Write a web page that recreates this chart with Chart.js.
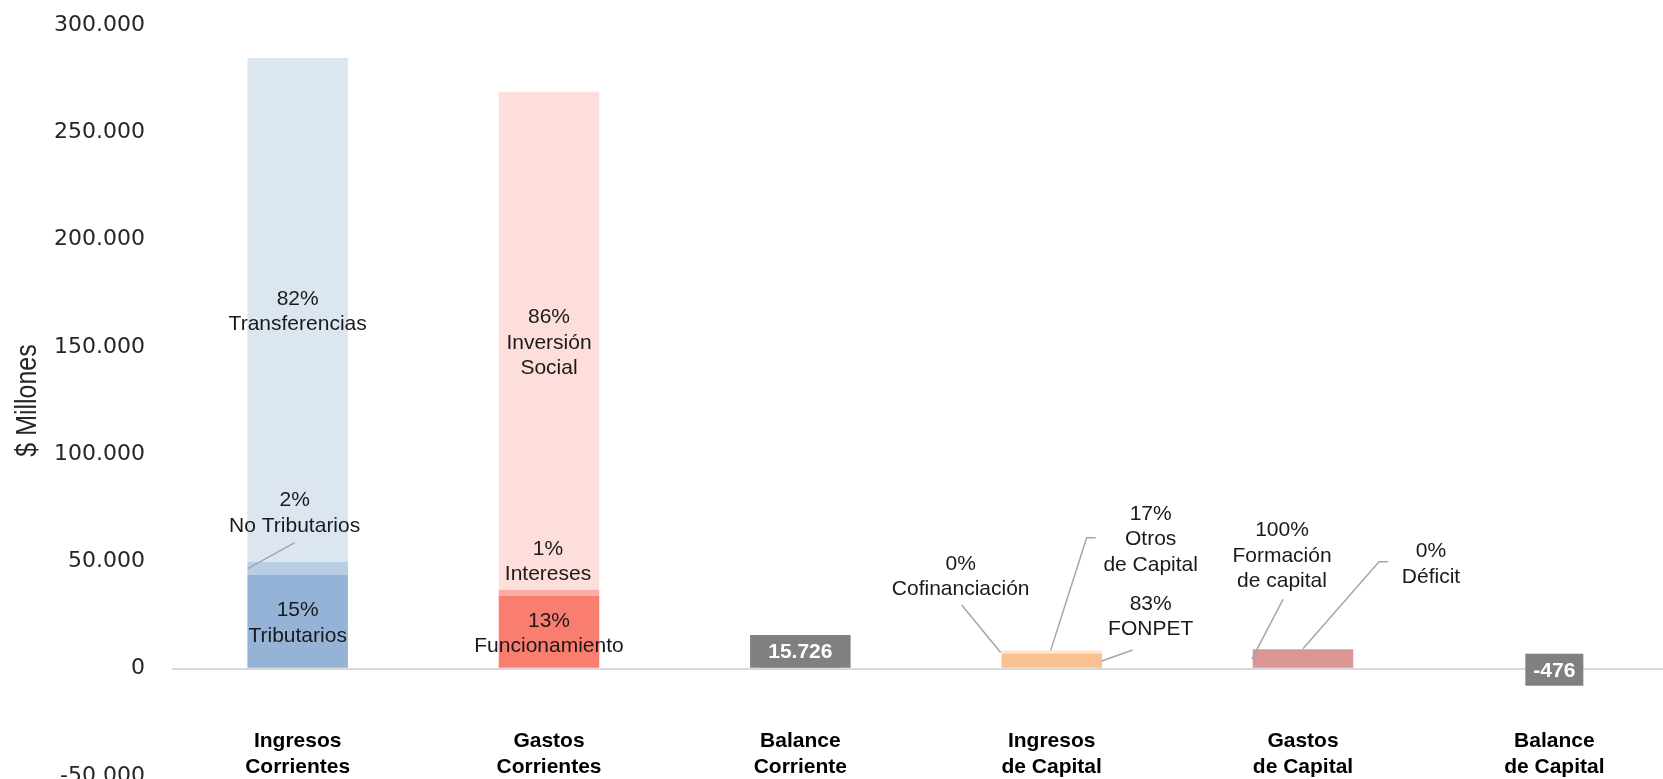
<!DOCTYPE html>
<html>
<head>
<meta charset="utf-8">
<script src="https://cdn.jsdelivr.net/npm/chart.js@4.4.0/dist/chart.umd.min.js"></script>
<style>
    html, body { margin: 0; padding: 0; background: #fff; overflow: hidden; }
    #wrap { position: relative; width: 1685px; height: 800px; }
</style>
</head>
<body>
<div id="wrap"><canvas id="myChart"></canvas></div>
<script>
// categorias del eje x
const categories = [
    ['Ingresos', 'Corrientes'], ['Gastos', 'Corrientes'], ['Balance', 'Corriente'],
    ['Ingresos', 'de Capital'], ['Gastos', 'de Capital'], ['Balance', 'de Capital']
];

// valores en $ millones
const tributarios      = [43900, null, null, null, null, null];
const noTributarios    = [6000, null, null, null, null, null];
const transferencias   = [234700, null, null, null, null, null];
const funcionamiento   = [null, 34000, null, null, null, null];
const intereses        = [null, 2800, null, null, null, null];
const inversionSocial  = [null, 232074, null, null, null, null];
const balanceCorriente = [null, null, 15726, null, null, null];
const fonpet           = [null, null, null, 7100, null, null];
const cofinanciacion   = [null, null, null, 0, null, null];
const otrosCapital     = [null, null, null, 1450, null, null];
const formacionCapital = [null, null, null, null, 9026, null];
const deficit          = [null, null, null, null, 0, null];
const balanceCapital   = [null, null, null, null, null, -476];

const yTicks = [-50000, 0, 50000, 100000, 150000, 200000, 250000, 300000];
const yTitle = '$ Millones';

function fmt(v) {
    return String(v).replace(/\B(?=(\d{3})+(?!\d))/g, '.');
}

// kind: part = porcentaje + nombre, balance = caja gris con el valor
// pos: 'center' dentro del segmento, o desplazamiento desde la parte superior de la barra
const series = [
    { name: ['Tributarios'], data: tributarios, color: '#95B3D7', kind: 'part', pos: 'center' },
    { name: ['No Tributarios'], data: noTributarios, color: '#B9CDE5', kind: 'part',
      pos: { dx: -3, dy: -61, line: [[-50, 7], [-3, -19]] } },
    { name: ['Transferencias'], data: transferencias, color: '#DCE6F1', kind: 'part', pos: 'center' },
    { name: ['Funcionamiento'], data: funcionamiento, color: '#FA7E70', kind: 'part', pos: 'center' },
    { name: ['Intereses'], data: intereses, color: '#FBADA5', kind: 'part', pos: { dx: -1, dy: -41 } },
    { name: ['Inversión', 'Social'], data: inversionSocial, color: '#FDDEDB', kind: 'part', pos: 'center' },
    { name: ['Balance Corriente'], data: balanceCorriente, color: '#808080', kind: 'balance' },
    { name: ['FONPET'], data: fonpet, color: '#FAC090', kind: 'part',
      pos: { dx: 99, dy: -49.5, line: [[50, 7.5], [81, -3.5]] } },
    { name: ['Cofinanciación'], data: cofinanciacion, color: '#FAC090', kind: 'part',
      pos: { dx: -91, dy: -89.5, line: [[-51, -1], [-90, -48.5]] } },
    { name: ['Otros', 'de Capital'], data: otrosCapital, color: '#FDE5D2', kind: 'part',
      pos: { dx: 99, dy: -136.5, line: [[-1, 0], [35, -112.5], [44, -112.5]] } },
    { name: ['Formación', 'de capital'], data: formacionCapital, color: '#DA9694', kind: 'part',
      pos: { dx: -21, dy: -119, line: [[-51, 9.5], [-20, -50]] } },
    { name: ['Déficit'], data: deficit, color: '#DA9694', kind: 'part',
      pos: { dx: 128, dy: -98, line: [[0, -0.5], [76, -87.5], [85, -87.5]] } },
    { name: ['Balance de Capital'], data: balanceCapital, color: '#808080', kind: 'balance' }
];

const segmentLabels = {
    id: 'segmentLabels',
    afterDatasetsDraw(chart) {
        const ctx = chart.ctx;
        const totals = categories.map(() => 0);
        series.forEach(s => s.data.forEach((v, j) => {
            if (v !== null && s.kind === 'part') totals[j] += v;
        }));
        const lh = 25.5;
        ctx.save();
        ctx.textAlign = 'center';
        ctx.textBaseline = 'middle';
        series.forEach((s, i) => {
            const meta = chart.getDatasetMeta(i);
            s.data.forEach((v, j) => {
                if (v === null) return;
                const el = meta.data[j];
                if (s.kind === 'balance') {
                    const txt = fmt(v);
                    ctx.font = 'bold 21px "Liberation Sans", Arial, sans-serif';
                    const w = ctx.measureText(txt).width + 16;
                    const cy = (el.y + el.base) / 2;
                    ctx.fillStyle = '#808080';
                    ctx.fillRect(el.x - w / 2, cy - 16, w, 32);
                    ctx.fillStyle = '#ffffff';
                    ctx.fillText(txt, el.x, cy + 1);
                    return;
                }
                const lines = [Math.round(v / totals[j] * 100) + '%'].concat(s.name);
                let x, y0;
                if (s.pos === 'center') {
                    x = el.x;
                    y0 = (el.y + el.base) / 2 - (lines.length - 1) * lh / 2 + 2;
                } else {
                    x = el.x + s.pos.dx;
                    y0 = el.y + s.pos.dy;
                    if (s.pos.line) {
                        ctx.strokeStyle = '#A6A6A6';
                        ctx.lineWidth = 1.5;
                        ctx.beginPath();
                        s.pos.line.forEach((p, k) => {
                            const px = el.x + p[0], py = el.y + p[1];
                            if (k === 0) ctx.moveTo(px, py); else ctx.lineTo(px, py);
                        });
                        ctx.stroke();
                    }
                }
                ctx.font = '21px "Liberation Sans", Arial, sans-serif';
                ctx.fillStyle = '#1A1A1A';
                lines.forEach((t, k) => ctx.fillText(t, x, y0 + k * lh));
            });
        });
        ctx.restore();
    }
};

// titulo del eje y en letra estrecha
const narrowTitle = {
    id: 'narrowTitle',
    afterDraw(chart) {
        const ctx = chart.ctx;
        const a = chart.chartArea;
        ctx.save();
        ctx.translate(28, (a.top + a.bottom) / 2);
        ctx.rotate(-Math.PI / 2);
        ctx.scale(0.86, 1);
        ctx.font = '29px "Liberation Sans", Arial, sans-serif';
        ctx.fillStyle = '#262626';
        ctx.textAlign = 'center';
        ctx.textBaseline = 'middle';
        ctx.fillText(yTitle, 0, 0);
        ctx.restore();
    }
};

let myChart;

document.addEventListener('DOMContentLoaded', function () {
    const ctx = document.getElementById('myChart');
    myChart = new Chart(ctx, {
        type: 'bar',
        data: {
            labels: categories,
            datasets: series.map(s => ({
                label: s.name.join(' '),
                data: s.data,
                backgroundColor: s.color,
                borderWidth: 0,
                categoryPercentage: 1,
                barPercentage: 0.4
            }))
        },
        options: {
            responsive: true,
            maintainAspectRatio: false,
            animation: false,
            layout: { padding: { top: 25, bottom: 24, left: 0, right: 5 } },
            plugins: {
                legend: { display: false },
                tooltip: { enabled: false }
            },
            scales: {
                x: {
                    stacked: true,
                    position: { y: -27650 },
                    grid: { display: false, drawTicks: false },
                    border: { display: false },
                    ticks: {
                        color: '#000',
                        padding: 0,
                        maxRotation: 0,
                        autoSkip: false,
                        font: { family: '"Liberation Sans", Arial, sans-serif', size: 21, weight: 'bold', lineHeight: 1.25 }
                    }
                },
                y: {
                    stacked: true,
                    min: -50000,
                    max: 300000,
                    afterBuildTicks: scale => { scale.ticks = yTicks.map(v => ({ value: v })); },
                    afterFit: scale => {
                        scale.width = 172;
                        scale.paddingTop = 0;
                        scale.paddingBottom = 0;
                    },
                    grid: {
                        color: c => c.tick && c.tick.value === 0 ? '#D9D9D9' : 'rgba(0,0,0,0)',
                        lineWidth: 2,
                        drawTicks: false
                    },
                    border: { display: false },
                    ticks: {
                        padding: 27,
                        color: '#262626',
                        font: { family: '"DejaVu Sans", sans-serif', size: 22 },
                        callback: v => fmt(v)
                    }
                }
            }
        },
        plugins: [segmentLabels, narrowTitle]
    });
});
</script>
</body>
</html>
